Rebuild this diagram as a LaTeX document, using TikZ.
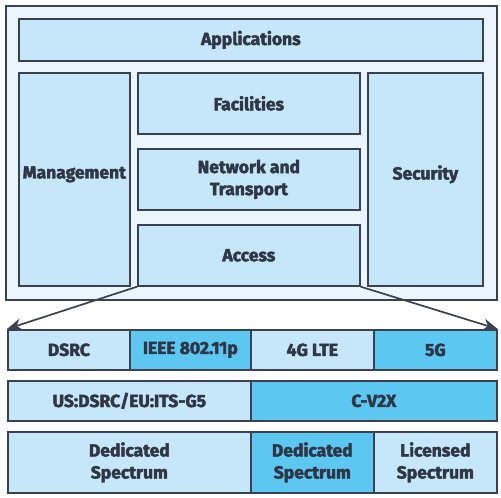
\documentclass[tikz,border=0pt]{standalone}
\usepackage{fontspec}
\setmainfont{Fira Sans}[BoldFont={Fira Sans Bold}, BoldFeatures={FakeBold=2.5}]
\usetikzlibrary{arrows.meta}
\definecolor{strokec}{HTML}{3A4150}
\definecolor{textc}{HTML}{2F3645}
\definecolor{outerc}{HTML}{EAF5FD}
\definecolor{lightc}{HTML}{C6E7FA}
\definecolor{darkc}{HTML}{5CC8F2}
\begin{document}
\begin{tikzpicture}[x=1pt,y=-1pt,
  box/.style={draw=strokec, line width=1.7pt, fill=lightc, text=textc,
    font=\fontsize{17.5}{22}\selectfont\bfseries, align=center, inner sep=0pt, anchor=north west},
  darkbox/.style={box, fill=darkc},
  arrowline/.style={draw=strokec, line width=1.7pt, -{Stealth[length=15pt,width=12pt]}}]
\useasboundingbox (0,0) rectangle (501,498);
\node[box, fill=outerc, minimum width=491pt, minimum height=294pt] (outer) at (5,5) {};
\node[box, minimum width=464pt, minimum height=42pt] (app) at (18,18) {Applications};
\node[box, minimum width=111pt, minimum height=213pt] (mgmt) at (18,72) {\raisebox{5pt}[\height][\depth]{Management}};
\node[box, minimum width=222pt, minimum height=61pt] (fac) at (137,72) {Facilities};
\node[box, minimum width=222pt, minimum height=61pt] (net) at (137,148) {Network and\\Transport};
\node[box, minimum width=222pt, minimum height=61pt] (acc) at (137,224) {Access};
\node[box, minimum width=115pt, minimum height=213pt] (sec) at (367,72) {\raisebox{5pt}[\height][\depth]{Security}};
% row 1
\node[box, minimum width=122pt, minimum height=40pt] (dsrc) at (7,329) {DSRC};
\node[darkbox, minimum width=121pt, minimum height=40pt] (ieee) at (129,329) {IEEE 802.11p};
\node[box, minimum width=123pt, minimum height=40pt] (lte) at (250,329) {4G LTE};
\node[darkbox, minimum width=123pt, minimum height=40pt] (fiveg) at (373,329) {5G};
% row 2
\node[box, minimum width=243pt, minimum height=40pt] (its) at (7,380) {US:DSRC/EU:ITS-G5};
\node[darkbox, minimum width=246pt, minimum height=40pt] (cv2x) at (250,380) {C-V2X};
% row 3
\node[box, minimum width=243pt, minimum height=61pt] (ded1) at (7,431) {Dedicated\\Spectrum};
\node[darkbox, minimum width=123pt, minimum height=61pt] (ded2) at (250,431) {Dedicated\\Spectrum};
\node[box, minimum width=123pt, minimum height=61pt] (lic) at (373,431) {Licensed\\Spectrum};
% arrows
\draw[arrowline] (acc.south west) -- (dsrc.north west);
\draw[arrowline] (acc.south east) -- (fiveg.north east);
\end{tikzpicture}
\end{document}
